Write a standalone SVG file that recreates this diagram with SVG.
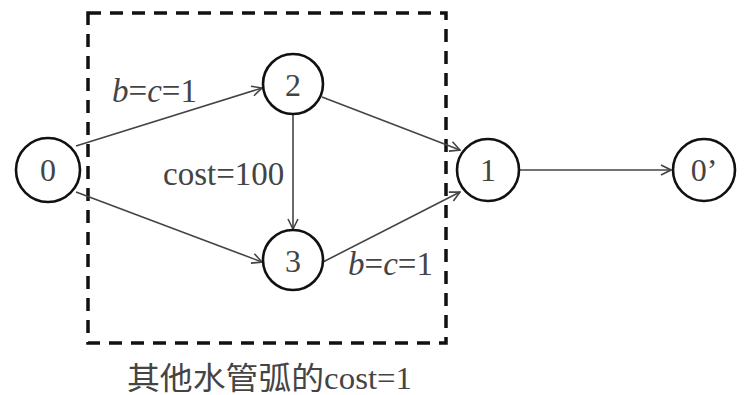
<svg xmlns="http://www.w3.org/2000/svg" width="745" height="395" viewBox="0 0 745 395">
<style>
.node circle{fill:#fff;stroke:#111;stroke-width:2.6}
.nl{font-family:"Liberation Serif",serif;font-size:32px;fill:#444;text-anchor:middle}
.edge{stroke:#444;stroke-width:1.6;fill:none;marker-end:url(#arr)}
.lbl{font-family:"Liberation Serif",serif;font-size:33px;fill:#444}
.box{fill:none;stroke:#111;stroke-width:3.5;stroke-dasharray:13 9}
</style>
<defs>
<marker id="arr" viewBox="0 0 12 12" refX="11" refY="6" markerWidth="12" markerHeight="12" markerUnits="userSpaceOnUse" orient="auto">
<path d="M1,1 L11,6 L1,11" fill="none" stroke="#444" stroke-width="1.6"/>
</marker>
</defs>
<rect width="745" height="395" fill="#fff"/>
<rect class="box" x="88" y="13" width="358" height="330"/>
<g id="connectors">
<line class="edge" x1="76" y1="146" x2="262" y2="88"/>
<line class="edge" x1="76" y1="192" x2="262" y2="262"/>
<line class="edge" x1="322" y1="97" x2="460" y2="150"/>
<line class="edge" x1="323" y1="262" x2="460" y2="192"/>
<line class="edge" x1="293" y1="115" x2="293" y2="229"/>
<line class="edge" x1="519" y1="170" x2="671" y2="170"/>
</g>
<g id="n0" class="node"><circle cx="48" cy="170" r="32"/><text class="nl" x="48" y="181">0</text></g>
<g id="n2" class="node"><circle cx="293" cy="84" r="30"/><text class="nl" x="293" y="96">2</text></g>
<g id="n3" class="node"><circle cx="293" cy="260" r="30"/><text class="nl" x="293" y="272">3</text></g>
<g id="n1" class="node"><circle cx="488" cy="170" r="31"/><text class="nl" x="488" y="181">1</text></g>
<g id="n0p" class="node"><circle cx="704" cy="170" r="31"/><text class="nl" x="704" y="181">0’</text></g>
<text class="lbl" x="112" y="102"><tspan font-style="italic">b</tspan>=<tspan font-style="italic">c</tspan>=1</text>
<text class="lbl" x="163" y="185">cost=100</text>
<text class="lbl" x="348" y="275"><tspan font-style="italic">b</tspan>=<tspan font-style="italic">c</tspan>=1</text>
<text x="127" y="389" textLength="285" lengthAdjust="spacingAndGlyphs" font-family="'Liberation Serif','Noto Sans CJK SC',serif" font-size="31" fill="#444">其他水管弧的cost=1</text>
</svg>
